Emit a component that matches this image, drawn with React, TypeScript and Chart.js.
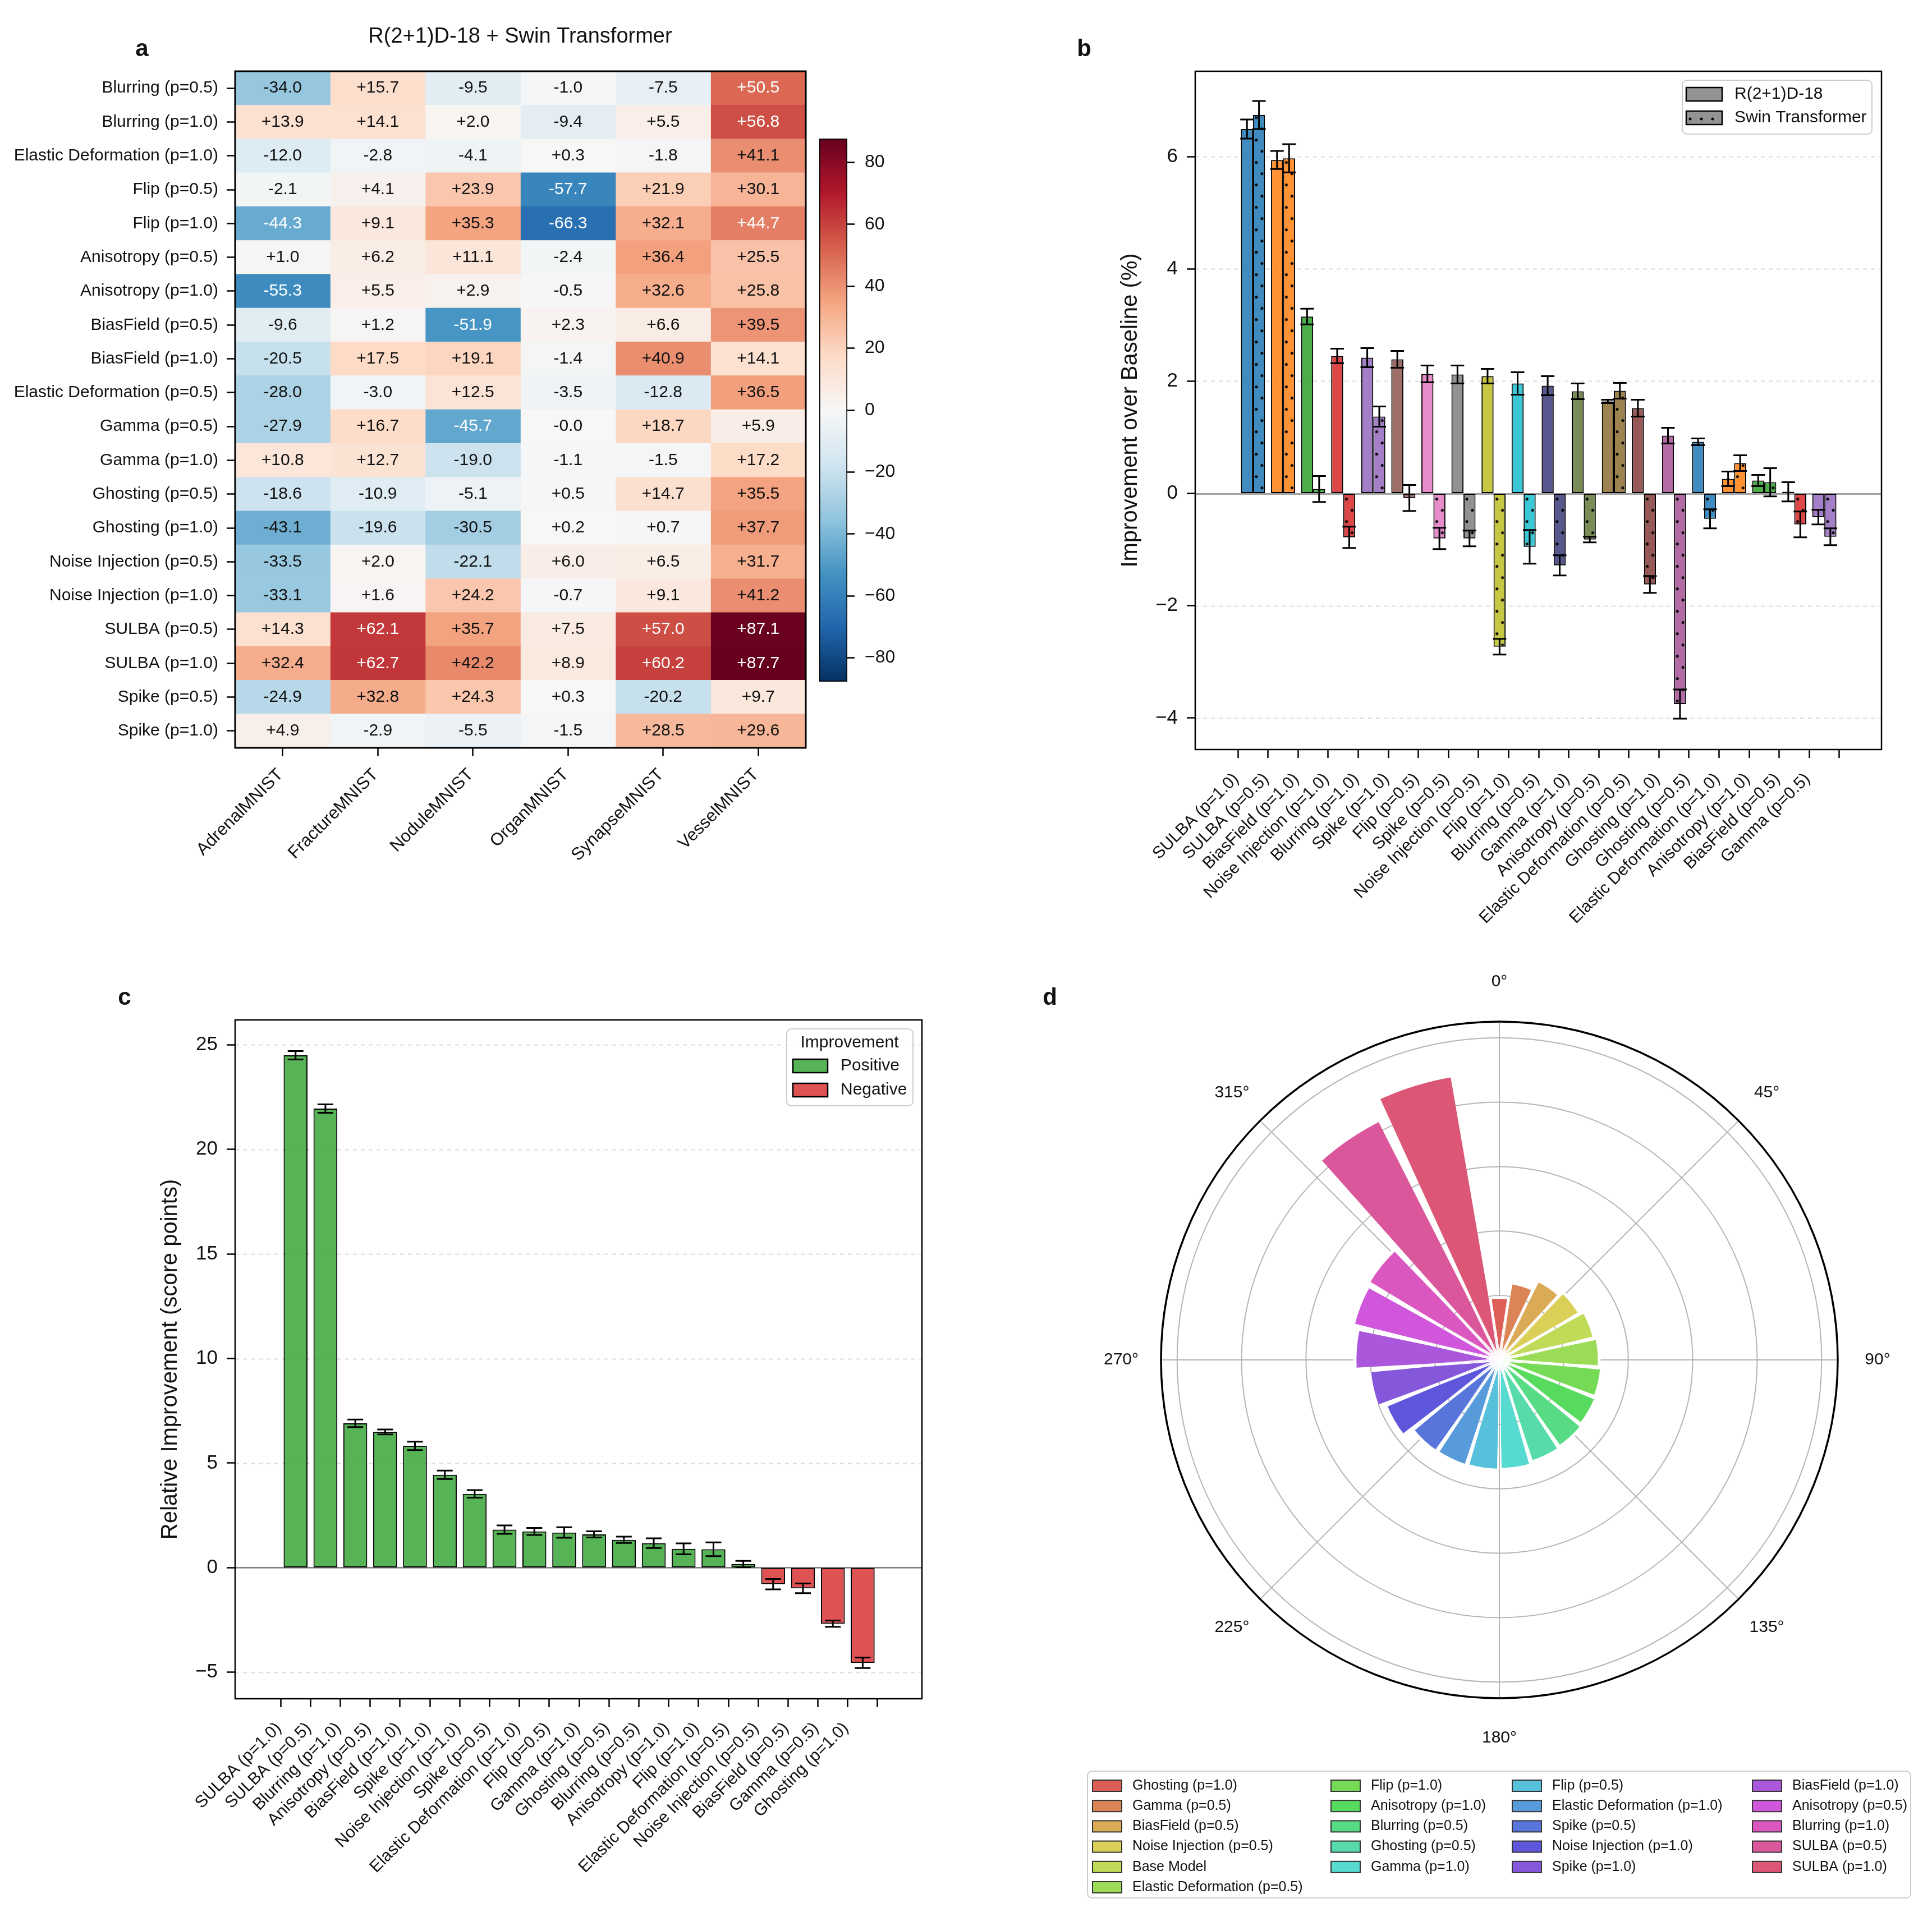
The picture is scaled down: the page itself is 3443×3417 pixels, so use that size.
import React, { useEffect, useRef } from 'react';
import { Chart, registerables } from 'chart.js';

Chart.register(...registerables);

const FONT = "'Liberation Sans', Arial, Helvetica, sans-serif";
const INK = '#111111';
Chart.defaults.font.family = FONT;
Chart.defaults.color = INK;

/* ================= Panel a : heatmap ================= */
const HM_TITLE = 'R(2+1)D-18 + Swin Transformer';
const HM_ROWS = [
  'Blurring (p=0.5)', 'Blurring (p=1.0)', 'Elastic Deformation (p=1.0)', 'Flip (p=0.5)', 'Flip (p=1.0)',
  'Anisotropy (p=0.5)', 'Anisotropy (p=1.0)', 'BiasField (p=0.5)', 'BiasField (p=1.0)', 'Elastic Deformation (p=0.5)',
  'Gamma (p=0.5)', 'Gamma (p=1.0)', 'Ghosting (p=0.5)', 'Ghosting (p=1.0)', 'Noise Injection (p=0.5)',
  'Noise Injection (p=1.0)', 'SULBA (p=0.5)', 'SULBA (p=1.0)', 'Spike (p=0.5)', 'Spike (p=1.0)',
];
const HM_COLS = ['AdrenalMNIST', 'FractureMNIST', 'NoduleMNIST', 'OrganMNIST', 'SynapseMNIST', 'VesselMNIST'];
const ADRENAL = [-34.0, 13.9, -12.0, -2.1, -44.3, 1.0, -55.3, -9.6, -20.5, -28.0, -27.9, 10.8, -18.6, -43.1, -33.5, -33.1, 14.3, 32.4, -24.9, 4.9];
const FRACTURE = [15.7, 14.1, -2.8, 4.1, 9.1, 6.2, 5.5, 1.2, 17.5, -3.0, 16.7, 12.7, -10.9, -19.6, 2.0, 1.6, 62.1, 62.7, 32.8, -2.9];
const NODULE = [-9.5, 2.0, -4.1, 23.9, 35.3, 11.1, 2.9, -51.9, 19.1, 12.5, -45.7, -19.0, -5.1, -30.5, -22.1, 24.2, 35.7, 42.2, 24.3, -5.5];
const ORGAN = [-1.0, -9.4, 0.3, -57.7, -66.3, -2.4, -0.5, 2.3, -1.4, -3.5, -0.0, -1.1, 0.5, 0.2, 6.0, -0.7, 7.5, 8.9, 0.3, -1.5];
const SYNAPSE = [-7.5, 5.5, -1.8, 21.9, 32.1, 36.4, 32.6, 6.6, 40.9, -12.8, 18.7, -1.5, 14.7, 0.7, 6.5, 9.1, 57.0, 60.2, -20.2, 28.5];
const VESSEL = [50.5, 56.8, 41.1, 30.1, 44.7, 25.5, 25.8, 39.5, 14.1, 36.5, 5.9, 17.2, 35.5, 37.7, 31.7, 41.2, 87.1, 87.7, 9.7, 29.6];
const HM_DATA = [ADRENAL, FRACTURE, NODULE, ORGAN, SYNAPSE, VESSEL];
const CB_TICKS = [-80, -60, -40, -20, 0, 20, 40, 60, 80];
const VMAX = Math.max(...HM_DATA.flat().map((v) => Math.abs(v)));

/* ================= Panel b : grouped bars ================= */
const B_LABELS = [
  'SULBA (p=1.0)', 'SULBA (p=0.5)', 'BiasField (p=1.0)', 'Noise Injection (p=1.0)', 'Blurring (p=1.0)',
  'Spike (p=1.0)', 'Flip (p=0.5)', 'Spike (p=0.5)', 'Noise Injection (p=0.5)', 'Flip (p=1.0)',
  'Blurring (p=0.5)', 'Gamma (p=1.0)', 'Anisotropy (p=0.5)', 'Elastic Deformation (p=0.5)', 'Ghosting (p=1.0)',
  'Ghosting (p=0.5)', 'Elastic Deformation (p=1.0)', 'Anisotropy (p=1.0)', 'BiasField (p=0.5)', 'Gamma (p=0.5)',
];
const B_SERIES = ['R(2+1)D-18', 'Swin Transformer'];
const B_R2P1 = [6.49, 5.94, 3.15, 2.45, 2.42, 2.39, 2.13, 2.12, 2.09, 1.96, 1.92, 1.82, 1.64, 1.52, 1.03, 0.92, 0.26, 0.23, 0.03, -0.42];
const B_R2P1_ERR = [0.17, 0.16, 0.14, 0.13, 0.17, 0.15, 0.15, 0.16, 0.13, 0.2, 0.17, 0.14, 0.03, 0.15, 0.14, 0.06, 0.13, 0.1, 0.17, 0.13];
const B_SWIN = [6.74, 5.97, 0.08, -0.78, 1.37, -0.08, -0.8, -0.8, -2.73, -0.95, -1.28, -0.82, 1.83, -1.62, -3.75, -0.45, 0.54, 0.2, -0.55, -0.77];
const B_SWIN_ERR = [0.25, 0.25, 0.23, 0.19, 0.18, 0.23, 0.19, 0.14, 0.14, 0.3, 0.18, 0.05, 0.14, 0.15, 0.26, 0.17, 0.14, 0.25, 0.23, 0.15];
const B_COLORS = [
  '#1f77b4', '#ff7f0e', '#2ca02c', '#d62728', '#9467bd', '#8c564b', '#e377c2', '#7f7f7f', '#bcbd22', '#17becf',
  '#393b79', '#637939', '#8c6d31', '#843c39', '#a55194', '#1f77b4', '#ff7f0e', '#2ca02c', '#d62728', '#9467bd',
];
const B_TICKS = [-4, -2, 0, 2, 4, 6];
const B_YLABEL = 'Improvement over Baseline (%)';

/* ================= Panel c : sorted bars ================= */
const C_LABELS = [
  'SULBA (p=1.0)', 'SULBA (p=0.5)', 'Blurring (p=1.0)', 'Anisotropy (p=0.5)', 'BiasField (p=1.0)',
  'Spike (p=1.0)', 'Noise Injection (p=1.0)', 'Spike (p=0.5)', 'Elastic Deformation (p=1.0)', 'Flip (p=0.5)',
  'Gamma (p=1.0)', 'Ghosting (p=0.5)', 'Blurring (p=0.5)', 'Anisotropy (p=1.0)', 'Flip (p=1.0)',
  'Elastic Deformation (p=0.5)', 'Noise Injection (p=0.5)', 'BiasField (p=0.5)', 'Gamma (p=0.5)', 'Ghosting (p=1.0)',
];
const C_VALUES = [24.5, 21.95, 6.9, 6.49, 5.82, 4.44, 3.53, 1.82, 1.73, 1.68, 1.59, 1.33, 1.17, 0.9, 0.88, 0.17, -0.79, -0.99, -2.68, -4.55];
const C_ERR = [0.2, 0.2, 0.18, 0.12, 0.2, 0.2, 0.18, 0.2, 0.17, 0.25, 0.15, 0.15, 0.23, 0.26, 0.33, 0.15, 0.25, 0.23, 0.15, 0.25];
const C_TICKS = [-5, 0, 5, 10, 15, 20, 25];
const C_YLABEL = 'Relative Improvement (score points)';
const C_LEGEND_TITLE = 'Improvement';
const C_LEGEND = ['Positive', 'Negative'];

/* ================= Panel d : polar bars ================= */
const D_LABELS = [
  'Ghosting (p=1.0)', 'Gamma (p=0.5)', 'BiasField (p=0.5)', 'Noise Injection (p=0.5)', 'Base Model',
  'Elastic Deformation (p=0.5)', 'Flip (p=1.0)', 'Anisotropy (p=1.0)', 'Blurring (p=0.5)', 'Ghosting (p=0.5)',
  'Gamma (p=1.0)', 'Flip (p=0.5)', 'Elastic Deformation (p=1.0)', 'Spike (p=0.5)', 'Noise Injection (p=1.0)',
  'Spike (p=1.0)', 'BiasField (p=1.0)', 'Anisotropy (p=0.5)', 'Blurring (p=1.0)', 'SULBA (p=0.5)', 'SULBA (p=1.0)',
];
const D_VALUES = [0.97, 1.21, 1.37, 1.44, 1.51, 1.55, 1.59, 1.61, 1.64, 1.66, 1.7, 1.71, 1.72, 1.73, 1.9, 2.02, 2.24, 2.33, 2.36, 4.16, 4.47];
const D_ANGLES = [0, 45, 90, 135, 180, 225, 270, 315];
const D_RTICKS = [0, 1, 2, 3, 4, 5];
const D_RMAX = 5.25;

/* ================= helpers ================= */
const RDBU_R = ['#053061', '#2166ac', '#4393c3', '#92c5de', '#d1e5f0', '#f7f7f7', '#fddbc7', '#f4a582', '#d6604d', '#b2182b', '#67001f'];
function hexRgb(h: string) {
  const n = parseInt(h.slice(1), 16);
  return [(n >> 16) & 255, (n >> 8) & 255, n & 255];
}
function rgba(h: string, a: number) {
  const [r, g, b] = hexRgb(h);
  return `rgba(${r},${g},${b},${a})`;
}
function cmap(v: number) {
  const t = Math.min(1, Math.max(0, (v + VMAX) / (2 * VMAX)));
  const p = t * 10;
  const i = Math.min(9, Math.floor(p));
  const f = p - i;
  const a = hexRgb(RDBU_R[i]);
  const b = hexRgb(RDBU_R[i + 1]);
  return `rgb(${Math.round(a[0] + (b[0] - a[0]) * f)},${Math.round(a[1] + (b[1] - a[1]) * f)},${Math.round(a[2] + (b[2] - a[2]) * f)})`;
}
function hls(h: number, l: number, s: number) {
  const m2 = l <= 0.5 ? l * (1 + s) : l + s - l * s;
  const m1 = 2 * l - m2;
  const v = (hh: number) => {
    hh = ((hh % 1) + 1) % 1;
    if (hh < 1 / 6) return m1 + (m2 - m1) * hh * 6;
    if (hh < 0.5) return m2;
    if (hh < 2 / 3) return m1 + (m2 - m1) * (2 / 3 - hh) * 6;
    return m1;
  };
  return `rgb(${Math.round(v(h + 1 / 3) * 255)},${Math.round(v(h) * 255)},${Math.round(v(h - 1 / 3) * 255)})`;
}
const D_COLORS = D_LABELS.map((_, i) => hls(0.01 + i / D_LABELS.length, 0.6, 0.65));
const fmtSigned = (v: number) => (v < 0 || Object.is(v, -0) ? '-' : '+') + Math.abs(v).toFixed(1);
const minus = (v: number) => (v < 0 ? '\u2212' + Math.abs(v) : String(v));
const GREEN = 'rgba(44,160,44,0.8)';
const RED = 'rgba(214,39,40,0.8)';

// staggered dot hatch (matplotlib '.')
const DOT_W = 20;
const DOT_H = 40;
const tileCache = new Map<string, HTMLCanvasElement>();
function dotTile(fill: string) {
  let t = tileCache.get(fill);
  if (!t) {
    t = document.createElement('canvas');
    t.width = DOT_W;
    t.height = DOT_H;
    const c = t.getContext('2d')!;
    c.fillStyle = '#ffffff';
    c.fillRect(0, 0, DOT_W, DOT_H);
    c.fillStyle = fill;
    c.fillRect(0, 0, DOT_W, DOT_H);
    c.fillStyle = '#000000';
    c.beginPath();
    c.arc(5, 10, 2.5, 0, Math.PI * 2);
    c.fill();
    c.beginPath();
    c.arc(15, 30, 2.5, 0, Math.PI * 2);
    c.fill();
    tileCache.set(fill, t);
  }
  return t;
}
function dotPattern(ctx: CanvasRenderingContext2D, fill: string, tx: number, ty: number) {
  const p = ctx.createPattern(dotTile(fill), 'repeat')!;
  p.setTransform(new DOMMatrix([1, 0, 0, 1, tx, ty]));
  return p;
}

type Txt = { t: string; x: number; y: number; size: number; bold?: boolean; align?: CanvasTextAlign };
function textPlugin(items: Txt[], ox: number, oy: number) {
  return {
    id: 'pageText',
    afterDraw(chart: any) {
      const c = chart.ctx;
      c.save();
      c.fillStyle = INK;
      for (const it of items) {
        c.font = `${it.bold ? 'bold ' : ''}${it.size}px ${FONT}`;
        c.textAlign = it.align || 'center';
        c.textBaseline = 'middle';
        c.fillText(it.t, it.x - ox, it.y - oy);
      }
      c.restore();
    },
  };
}
function framePlugin(w: number) {
  return {
    id: 'frame',
    afterDatasetsDraw(chart: any) {
      const { ctx, chartArea: a } = chart;
      ctx.save();
      ctx.strokeStyle = '#000';
      ctx.lineWidth = w;
      ctx.strokeRect(a.left, a.top, a.right - a.left, a.bottom - a.top);
      ctx.restore();
    },
  };
}
function hGridPlugin(ticks: number[]) {
  return {
    id: 'hgrid',
    beforeDatasetsDraw(chart: any) {
      const { ctx, chartArea: a } = chart;
      const ys = chart.scales.y;
      ctx.save();
      for (const t of ticks) {
        const py = Math.round(ys.getPixelForValue(t)) + 0.5;
        ctx.beginPath();
        if (t === 0) {
          ctx.setLineDash([]);
          ctx.strokeStyle = '#5a5a5a';
          ctx.lineWidth = 2.2;
        } else {
          ctx.setLineDash([7, 7]);
          ctx.strokeStyle = '#dcdcdc';
          ctx.lineWidth = 2;
        }
        ctx.moveTo(a.left, py);
        ctx.lineTo(a.right, py);
        ctx.stroke();
      }
      ctx.restore();
    },
  };
}
function errorBarPlugin(values: number[][], errs: number[][], cap: number) {
  return {
    id: 'errorBars',
    afterDatasetsDraw(chart: any) {
      const { ctx } = chart;
      const ys = chart.scales.y;
      ctx.save();
      ctx.strokeStyle = '#000';
      ctx.lineWidth = 3;
      values.forEach((vals, di) => {
        const meta = chart.getDatasetMeta(di);
        vals.forEach((v, i) => {
          const el = meta.data[i];
          if (!el) return;
          const x = el.x;
          const e = errs[di][i];
          const y1 = ys.getPixelForValue(v - e);
          const y2 = ys.getPixelForValue(v + e);
          ctx.beginPath();
          ctx.moveTo(x, y1);
          ctx.lineTo(x, y2);
          ctx.moveTo(x - cap, y1);
          ctx.lineTo(x + cap, y1);
          ctx.moveTo(x - cap, y2);
          ctx.lineTo(x + cap, y2);
          ctx.stroke();
        });
      });
      ctx.restore();
    },
  };
}
function legendFrame(ctx: CanvasRenderingContext2D, x0: number, y0: number, x1: number, y1: number) {
  ctx.save();
  ctx.beginPath();
  (ctx as any).roundRect(x0, y0, x1 - x0, y1 - y0, 8);
  ctx.fillStyle = 'rgba(255,255,255,0.85)';
  ctx.fill();
  ctx.strokeStyle = '#cccccc';
  ctx.lineWidth = 2;
  ctx.stroke();
  ctx.restore();
}

const BASE = { responsive: false, maintainAspectRatio: false, animation: false, devicePixelRatio: 1, events: [] as any[] };
const tickGrid = (len: number) => ({ drawOnChartArea: false, drawTicks: true, tickLength: len, tickWidth: 2.5, tickColor: '#000' });

/* ================= chart builders ================= */
function makeHeatmap(canvas: HTMLCanvasElement) {
  const heatText = {
    id: 'heatText',
    afterDatasetsDraw(chart: any) {
      const { ctx } = chart;
      const xs = chart.scales.x;
      const ys = chart.scales.y;
      ctx.save();
      ctx.font = `30px ${FONT}`;
      ctx.textAlign = 'center';
      ctx.textBaseline = 'middle';
      HM_DATA.forEach((col, j) =>
        col.forEach((v, i) => {
          ctx.fillStyle = Math.abs(v) > VMAX / 2 ? '#ffffff' : INK;
          ctx.fillText(fmtSigned(v), xs.getPixelForValue(j + 0.5), ys.getPixelForValue(i));
        })
      );
      ctx.restore();
    },
  };
  return new Chart(canvas, {
    type: 'bar',
    data: {
      labels: HM_ROWS,
      datasets: HM_DATA.map((col, j) => ({
        label: HM_COLS[j],
        data: col.map(() => [j, j + 1]),
        backgroundColor: col.map(cmap),
        borderWidth: 0,
        grouped: false,
        barPercentage: 1,
        categoryPercentage: 1,
      })),
    } as any,
    options: {
      ...BASE,
      indexAxis: 'y',
      layout: { padding: { left: 0, top: 127, right: 14, bottom: 0 } },
      plugins: { legend: { display: false }, tooltip: { enabled: false } },
      scales: {
        x: {
          type: 'linear',
          min: 0,
          max: HM_COLS.length,
          afterBuildTicks: (s: any) => {
            s.ticks = HM_COLS.map((_, j) => ({ value: j + 0.5 }));
          },
          afterFit: (s: any) => {
            s.height = 267;
          },
          ticks: {
            autoSkip: false,
            minRotation: 45,
            maxRotation: 45,
            padding: 15,
            labelOffset: -4,
            font: { family: FONT, size: 31 },
            color: INK,
            callback: (_v: any, i: number) => HM_COLS[i],
          },
          grid: tickGrid(15),
          border: { display: false },
        },
        y: {
          type: 'category',
          offset: true,
          afterFit: (s: any) => {
            s.width = 419;
          },
          ticks: { autoSkip: false, padding: 15, font: { family: FONT, size: 30 }, color: INK },
          grid: { ...tickGrid(15), offset: false },
          border: { display: false },
        },
      },
    } as any,
    plugins: [
      heatText,
      framePlugin(3),
      textPlugin(
        [
          { t: 'a', x: 253, y: 88, size: 42, bold: true },
          { t: HM_TITLE, x: 927, y: 66, size: 38 },
        ],
        0,
        0
      ),
    ],
  });
}

function makeColorbar(canvas: HTMLCanvasElement) {
  return new Chart(canvas, {
    type: 'bar',
    data: {
      labels: [''],
      datasets: [
        {
          data: [[-VMAX, VMAX]],
          backgroundColor: (c: any) => {
            const chart = c.chart;
            const ys = chart.scales.y;
            if (!chart.chartArea || !ys) return RDBU_R[5];
            const y0 = ys.getPixelForValue(-VMAX);
            const y1 = ys.getPixelForValue(VMAX);
            if (!isFinite(y0) || !isFinite(y1)) return RDBU_R[5];
            const g = chart.ctx.createLinearGradient(0, y0, 0, y1);
            RDBU_R.forEach((col, i) => g.addColorStop(i / 10, col));
            return g;
          },
          borderColor: '#000',
          borderWidth: 2,
          borderSkipped: false,
          barPercentage: 1,
          categoryPercentage: 1,
        },
      ],
    } as any,
    options: {
      ...BASE,
      layout: { padding: { left: 20, top: 47, right: 0, bottom: 65 } },
      plugins: { legend: { display: false }, tooltip: { enabled: false } },
      scales: {
        x: { display: false },
        y: {
          position: 'right',
          min: -VMAX,
          max: VMAX,
          afterBuildTicks: (s: any) => {
            s.ticks = CB_TICKS.map((v) => ({ value: v }));
          },
          afterFit: (s: any) => {
            s.width = 150;
          },
          ticks: { padding: 18, font: { family: FONT, size: 32 }, color: INK, callback: (v: any) => minus(Number(v)) },
          grid: tickGrid(13),
          border: { display: false },
        },
      },
    } as any,
  });
}

function makeB(canvas: HTMLCanvasElement) {
  const OX = 1880;
  const OY = 0;
  const legendB = {
    id: 'legendB',
    afterDraw(chart: any) {
      const ctx: CanvasRenderingContext2D = chart.ctx;
      legendFrame(ctx, 2998 - OX, 143 - OY, 3336 - OX, 239 - OY);
      ctx.save();
      ctx.fillStyle = 'rgba(128,128,128,0.85)';
      ctx.fillRect(3005 - OX, 156 - OY, 64, 24);
      ctx.strokeStyle = '#000';
      ctx.lineWidth = 2.5;
      ctx.strokeRect(3005 - OX, 156 - OY, 64, 24);
      ctx.fillStyle = dotPattern(ctx, 'rgba(128,128,128,0.85)', 3005 - OX + 2, 198 - OY + 4);
      ctx.fillRect(3005 - OX, 198 - OY, 64, 24);
      ctx.strokeRect(3005 - OX, 198 - OY, 64, 24);
      ctx.fillStyle = INK;
      ctx.font = `30px ${FONT}`;
      ctx.textAlign = 'left';
      ctx.textBaseline = 'middle';
      ctx.fillText(B_SERIES[0], 3091 - OX, 168 - OY);
      ctx.fillText(B_SERIES[1], 3091 - OX, 210 - OY);
      ctx.restore();
    },
  };
  return new Chart(canvas, {
    type: 'bar',
    data: {
      datasets: [
        {
          label: B_SERIES[0],
          data: B_R2P1.map((v, i) => ({ x: i, y: v })),
          backgroundColor: B_COLORS.map((c) => rgba(c, 0.85)),
          borderColor: '#000',
          borderWidth: 2,
          borderSkipped: false,
          categoryPercentage: 0.8,
          barPercentage: 1,
        },
        {
          label: B_SERIES[1],
          data: B_SWIN.map((v, i) => ({ x: i, y: v })),
          backgroundColor: (c: any) => {
            const i = c.dataIndex;
            const chart = c.chart;
            if (i == null) return 'rgba(128,128,128,0.85)';
            const fill = rgba(B_COLORS[i], 0.85);
            const xs = chart.scales.x;
            const ys = chart.scales.y;
            if (!chart.chartArea || !xs || !ys) return fill;
            const unit = xs.getPixelForValue(1) - xs.getPixelForValue(0);
            const cx = xs.getPixelForValue(i) + 0.2 * unit;
            const cy = ys.getPixelForValue(0);
            if (!isFinite(cx) || !isFinite(cy)) return fill;
            return dotPattern(chart.ctx, fill, cx - 9.8, cy);
          },
          borderColor: '#000',
          borderWidth: 2,
          borderSkipped: false,
          categoryPercentage: 0.8,
          barPercentage: 1,
        },
      ],
    } as any,
    options: {
      ...BASE,
      layout: { padding: { left: 0, top: 127, right: 67, bottom: 0 } },
      plugins: { legend: { display: false }, tooltip: { enabled: false } },
      scales: {
        x: {
          type: 'linear',
          min: -1.35,
          max: 20.33,
          afterBuildTicks: (s: any) => {
            s.ticks = B_LABELS.map((_, i) => ({ value: i }));
          },
          afterFit: (s: any) => {
            s.height = 384;
          },
          ticks: {
            autoSkip: false,
            minRotation: 45,
            maxRotation: 45,
            padding: 20,
            labelOffset: -30,
            font: { family: FONT, size: 30 },
            color: INK,
            callback: (_v: any, i: number) => B_LABELS[i],
          },
          grid: tickGrid(15),
          border: { display: false },
        },
        y: {
          type: 'linear',
          min: -4.56,
          max: 7.52,
          afterBuildTicks: (s: any) => {
            s.ticks = B_TICKS.map((v) => ({ value: v }));
          },
          afterFit: (s: any) => {
            s.width = 250;
          },
          ticks: { padding: 16, font: { family: FONT, size: 35 }, color: INK, callback: (v: any) => minus(Number(v)) },
          grid: tickGrid(15),
          border: { display: false },
          title: { display: true, text: B_YLABEL, font: { family: FONT, size: 40 }, color: INK, padding: { top: 111, bottom: 0 } },
        },
      },
    } as any,
    plugins: [
      hGridPlugin(B_TICKS),
      errorBarPlugin([B_R2P1, B_SWIN], [B_R2P1_ERR, B_SWIN_ERR], 12),
      framePlugin(2.5),
      legendB,
      textPlugin([{ t: 'b', x: 1932, y: 88, size: 42, bold: true }], OX, OY),
    ],
  });
}

function makeC(canvas: HTMLCanvasElement) {
  const OX = 180;
  const OY = 1700;
  const legendC = {
    id: 'legendC',
    afterDraw(chart: any) {
      const ctx: CanvasRenderingContext2D = chart.ctx;
      legendFrame(ctx, 1402 - OX, 1834 - OY, 1627 - OX, 1971 - OY);
      ctx.save();
      ctx.fillStyle = INK;
      ctx.font = `30px ${FONT}`;
      ctx.textAlign = 'center';
      ctx.textBaseline = 'middle';
      ctx.fillText(C_LEGEND_TITLE, 1514 - OX, 1859 - OY);
      const rows = [1900, 1943];
      const fills = [GREEN, RED];
      rows.forEach((ry, k) => {
        ctx.fillStyle = fills[k];
        ctx.fillRect(1413 - OX, ry - 12 - OY, 62, 24);
        ctx.strokeStyle = '#000';
        ctx.lineWidth = 2.5;
        ctx.strokeRect(1413 - OX, ry - 12 - OY, 62, 24);
        ctx.fillStyle = INK;
        ctx.textAlign = 'left';
        ctx.fillText(C_LEGEND[k], 1498 - OX, ry - OY);
      });
      ctx.restore();
    },
  };
  return new Chart(canvas, {
    type: 'bar',
    data: {
      datasets: [
        {
          label: C_YLABEL,
          data: C_VALUES.map((v, i) => ({ x: i, y: v })),
          backgroundColor: C_VALUES.map((v) => (v >= 0 ? GREEN : RED)),
          borderColor: '#000',
          borderWidth: 2,
          borderSkipped: false,
          categoryPercentage: 0.8,
          barPercentage: 1,
        },
      ],
    } as any,
    options: {
      ...BASE,
      layout: { padding: { left: 0, top: 118, right: 57, bottom: 0 } },
      plugins: { legend: { display: false }, tooltip: { enabled: false } },
      scales: {
        x: {
          type: 'linear',
          min: -1.45,
          max: 20.41,
          afterBuildTicks: (s: any) => {
            s.ticks = C_LABELS.map((_, i) => ({ value: i }));
          },
          afterFit: (s: any) => {
            s.height = 389;
          },
          ticks: {
            autoSkip: false,
            minRotation: 45,
            maxRotation: 45,
            padding: 20,
            labelOffset: -30,
            font: { family: FONT, size: 30 },
            color: INK,
            callback: (_v: any, i: number) => C_LABELS[i],
          },
          grid: tickGrid(15),
          border: { display: false },
        },
        y: {
          type: 'linear',
          min: -6.27,
          max: 26.19,
          afterBuildTicks: (s: any) => {
            s.ticks = C_TICKS.map((v) => ({ value: v }));
          },
          afterFit: (s: any) => {
            s.width = 239;
          },
          ticks: { padding: 16, font: { family: FONT, size: 35 }, color: INK, callback: (v: any) => minus(Number(v)) },
          grid: tickGrid(15),
          border: { display: false },
          title: { display: true, text: C_YLABEL, font: { family: FONT, size: 40 }, color: INK, padding: { top: 100, bottom: 0 } },
        },
      },
    } as any,
    plugins: [
      hGridPlugin(C_TICKS),
      errorBarPlugin([C_VALUES], [C_ERR], 14),
      framePlugin(2.5),
      legendC,
      textPlugin([{ t: 'c', x: 222, y: 1779, size: 42, bold: true }], OX, OY),
    ],
  });
}

function makeD(canvas: HTMLCanvasElement) {
  const OX = 1850;
  const OY = 1700;
  const GAP = (2.4 * Math.PI) / 180;
  const decor = {
    id: 'polarDecor',
    beforeDatasetsDraw(chart: any) {
      const r = chart.scales.r;
      const { ctx } = chart;
      const cx = r.xCenter;
      const cy = r.yCenter;
      const R = r.getDistanceFromCenterForValue(D_RMAX);
      ctx.save();
      ctx.strokeStyle = '#b5b5b5';
      ctx.lineWidth = 2;
      for (const a of D_ANGLES) {
        const th = (a * Math.PI) / 180;
        ctx.beginPath();
        ctx.moveTo(cx, cy);
        ctx.lineTo(cx + R * Math.sin(th), cy - R * Math.cos(th));
        ctx.stroke();
      }
      ctx.restore();
      // angular gaps between neighbouring bars (clip, restored after datasets)
      ctx.save();
      ctx.beginPath();
      ctx.rect(0, 0, chart.width, chart.height);
      const n = D_VALUES.length;
      const slot = (2 * Math.PI) / n;
      const RB = R * 1.3;
      for (let k = 0; k < n; k++) {
        const phi = (k + 0.5) * slot;
        ctx.moveTo(cx, cy);
        ctx.lineTo(cx + RB * Math.sin(phi - GAP / 2), cy - RB * Math.cos(phi - GAP / 2));
        ctx.lineTo(cx + RB * Math.sin(phi + GAP / 2), cy - RB * Math.cos(phi + GAP / 2));
        ctx.closePath();
      }
      ctx.clip('evenodd');
    },
    afterDatasetsDraw(chart: any) {
      const { ctx } = chart;
      ctx.restore();
      const r = chart.scales.r;
      const cx = r.xCenter;
      const cy = r.yCenter;
      const R = r.getDistanceFromCenterForValue(D_RMAX);
      ctx.save();
      ctx.strokeStyle = '#000';
      ctx.lineWidth = 3.5;
      ctx.beginPath();
      ctx.arc(cx, cy, R, 0, Math.PI * 2);
      ctx.stroke();
      ctx.fillStyle = INK;
      ctx.font = `30px ${FONT}`;
      ctx.textAlign = 'center';
      ctx.textBaseline = 'middle';
      const LR = R * (674 / 603);
      for (const a of D_ANGLES) {
        const th = (a * Math.PI) / 180;
        ctx.fillText(`${a}°`, cx + LR * Math.sin(th), cy - LR * Math.cos(th));
      }
      ctx.restore();
    },
  };
  const legendD = {
    id: 'legendD',
    afterDraw(chart: any) {
      const ctx: CanvasRenderingContext2D = chart.ctx;
      legendFrame(ctx, 1938 - OX, 3157 - OY, 3405 - OX, 3383 - OY);
      const colX = [1947, 2372, 2695, 3123];
      ctx.save();
      ctx.font = `25px ${FONT}`;
      ctx.textAlign = 'left';
      ctx.textBaseline = 'middle';
      D_LABELS.forEach((lab, k) => {
        const col = k < 6 ? 0 : 1 + Math.floor((k - 6) / 5);
        const row = k < 6 ? k : (k - 6) % 5;
        const px = colX[col] - OX;
        const py = 3183 + row * 36.2 - OY;
        ctx.fillStyle = D_COLORS[k];
        ctx.fillRect(px, py - 10, 52, 20);
        ctx.strokeStyle = '#333';
        ctx.lineWidth = 2;
        ctx.strokeRect(px, py - 10, 52, 20);
        ctx.fillStyle = INK;
        ctx.fillText(lab, px + 71, py);
      });
      ctx.restore();
    },
  };
  return new Chart(canvas, {
    type: 'polarArea',
    data: {
      labels: D_LABELS,
      datasets: [{ data: D_VALUES, backgroundColor: D_COLORS, borderColor: '#ffffff', borderWidth: 5 }],
    },
    options: {
      ...BASE,
      layout: { padding: { left: 219, top: 121, right: 168, bottom: 390 } },
      plugins: { legend: { display: false }, tooltip: { enabled: false } },
      scales: {
        r: {
          min: 0,
          max: D_RMAX,
          startAngle: -180 / D_LABELS.length,
          afterBuildTicks: (s: any) => {
            s.ticks = D_RTICKS.map((v) => ({ value: v }));
          },
          ticks: { display: false },
          grid: { circular: true, color: '#b5b5b5', lineWidth: 2 },
          angleLines: { display: false },
          pointLabels: { display: false },
        },
      },
    } as any,
    plugins: [decor, legendD, textPlugin([{ t: 'd', x: 1871, y: 1779, size: 42, bold: true }], OX, OY)],
  });
}

/* ================= React ================= */
function ChartCanvas({ x, y, w, h, make }: { x: number; y: number; w: number; h: number; make: (c: HTMLCanvasElement) => Chart }) {
  const ref = useRef<HTMLCanvasElement | null>(null);
  useEffect(() => {
    if (!ref.current) return;
    const chart = make(ref.current);
    return () => chart.destroy();
  }, [make]);
  return <canvas ref={ref} width={w} height={h} style={{ position: 'absolute', left: x, top: y, width: w, height: h }} />;
}

export default function App() {
  return (
    <div style={{ position: 'absolute', left: 0, top: 0, width: 3443, height: 3417, background: '#ffffff', overflow: 'hidden' }}>
      <ChartCanvas x={0} y={0} w={1450} h={1600} make={makeHeatmap} />
      <ChartCanvas x={1440} y={200} w={220} h={1080} make={makeColorbar} />
      <ChartCanvas x={1880} y={0} w={1540} h={1720} make={makeB} />
      <ChartCanvas x={180} y={1700} w={1520} h={1717} make={makeC} />
      <ChartCanvas x={1850} y={1700} w={1593} h={1717} make={makeD} />
    </div>
  );
}
